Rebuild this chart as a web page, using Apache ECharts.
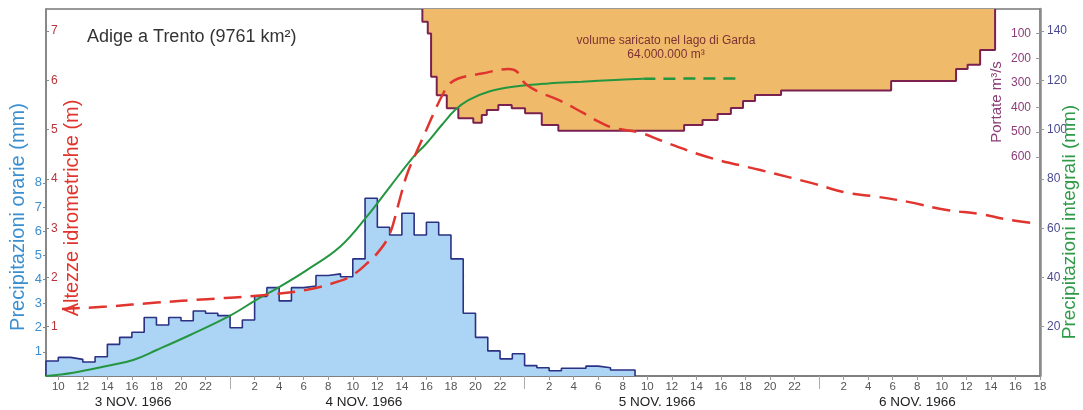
<!DOCTYPE html>
<html>
<head>
<meta charset="utf-8">
<script src="https://cdn.jsdelivr.net/npm/echarts@6/dist/echarts.min.js"></script>
<style>
html,body{margin:0;padding:0;background:#fff;}
#chart{width:1083px;height:410px;}
</style>
</head>
<body>
<div id="chart"></div>
<script>
// ---- Data (hours counted from 3 Nov 1966 00:00) ----
const precipStartHour = 9;
const precipMm = [0.62,0.77,0.69,0.58,0.80,1.31,1.60,1.81,2.42,2.11,2.42,2.29,2.69,2.60,2.50,
  2.00,2.32,3.29,3.66,3.11,3.66,3.73,4.16,4.23,4.11,4.85,7.36,6.16,5.84,6.74,5.84,6.37,5.84,4.85,
  2.60,1.60,1.04,0.71,0.92,0.43,0.34,0.22,0.32,0.32,0.41,0.34,0.25,0.25];

const volumeHours   = [39.67,39.67,40.11,40.38,40.84,41.66,42.6,43.82,44.51,44.92,45.86,46.95,48.04,49.4,50.75,61.0,62.5,63.73,64.81,65.8,66.78,68.9,77.87,83.16,84.1,85.12,86.34];
const volumePortate = [0,52,99,275,350,403,444,462,430,410,390,403,423,471,494,471,451,426,402,374,349,331,292,244,226,166,0];

const levelHours = [10.3,13.95,18.02,22.1,26.17,30.25,32.96,34.05,35.0,36.22,37.04,37.7,38.4,39.2,40.0,40.84,41.38,41.79,42.6,44.51,46.68,47.36,48.04,49.12,50.8,52.7,54.0,55.2,57.4,59.0,62.85,67.2,71.5,74.25,76.4,79.15,82.4,85.1,87.3,89.6];
const levelM     = [1.36,1.41,1.49,1.56,1.63,1.75,1.93,2.06,2.25,2.56,2.90,3.47,4.08,4.55,5.00,5.47,5.74,5.91,6.04,6.14,6.23,6.18,5.94,5.77,5.60,5.35,5.17,5.04,4.94,4.79,4.45,4.18,3.91,3.72,3.65,3.54,3.37,3.29,3.18,3.10];

const integralHours = [9,11.22,13.95,16.11,18.02,20.74,24,26.17,28.07,30.25,32.96,35.14,37.04,38.94,39.89,41.25,42.33,43.42,45.05,47.22,49.94,52.66,55.37,57.68];
const integralMm    = [0,1.34,4.06,6.5,10.56,16.65,24.5,31.0,36.3,43.0,52.5,64.7,76.9,89.0,93.8,101.9,108.0,112.0,115.4,117.5,118.8,119.5,120.2,120.7];
const integralDashHours = [57.68,65.7];
const integralDashMm    = [120.7,120.8];

// tick labels
const hourTickValues = [10,12,14,16,18,20,22, 26,28,30,32,34,36,38,40,42,44,46, 50,52,54,56,58,60,62,64,66,68,70, 74,76,78,80,82,84,86,88,90];
const dayBreaks = [24,48,72];
const dayLabels = ['3 NOV. 1966','4 NOV. 1966','5 NOV. 1966','6 NOV. 1966'];
const dayLabelPos = [16.1,34.9,58.8,80.0];
const precipTicks = [1,2,3,4,5,6,7,8];
const levelTicks = [1,2,3,4,5,6,7];
const portateTicks = [100,200,300,400,500,600];
const integralTicks = [20,40,60,80,100,120,140];

// ---- build series data ----
const precipData = [[precipStartHour,0]];
precipMm.forEach((v,i)=>precipData.push([precipStartHour+i, v]));
precipData.push([precipStartHour+precipMm.length, 0]);
const volumeData = volumeHours.map((h,i)=>[h, volumePortate[i]]);
const levelData = levelHours.map((h,i)=>[h, levelM[i]]);
const integralData = integralHours.map((h,i)=>[h, integralMm[i]]);
const integralDashData = integralDashHours.map((h,i)=>[h, integralDashMm[i]]);

const FONT = '"Liberation Sans", Arial, sans-serif';
const chart = echarts.init(document.getElementById('chart'), null, {renderer:'canvas'});

const vtext = (x,y,text,color,size)=>({type:'text', x, y, rotation:Math.PI/2, z:10,
  style:{text, fill:color, font:size+'px '+FONT, align:'center', verticalAlign:'middle', textAlign:'center', textVerticalAlign:'middle'}});

const option = {
  animation:false,
  backgroundColor:'#fff',
  title:{text:'Adige a Trento (9761 km²)', left:82, top:23,
    textStyle:{fontFamily:FONT, fontSize:18, fontWeight:'normal', color:'#333'}},
  grid:{left:46, right:43, top:9, bottom:34, show:true, borderColor:'#333', borderWidth:1},
  xAxis:[
    {type:'value', min:9, max:90, position:'bottom',
      axisLine:{show:true, lineStyle:{color:'#777', width:1.5}},
      axisTick:{show:true, customValues:hourTickValues, length:4, lineStyle:{color:'#999'}},
      axisLabel:{customValues:hourTickValues, formatter:v=>String(Math.round(v)%24),
        fontFamily:FONT, fontSize:11.5, color:'#555', margin:5},
      splitLine:{show:false}},
    {type:'value', min:9, max:90, position:'bottom',
      axisLine:{show:false},
      axisTick:{show:true, customValues:dayBreaks, length:13, lineStyle:{color:'#aaa', width:1}},
      axisLabel:{show:false}, splitLine:{show:false}},
    {type:'value', min:9, max:90, position:'bottom',
      axisLine:{show:false}, axisTick:{show:false},
      axisLabel:{customValues:dayLabelPos, margin:19,
        formatter:v=>{let k=0,b=1e9;dayLabelPos.forEach((p,i)=>{if(Math.abs(p-v)<b){b=Math.abs(p-v);k=i;}});return dayLabels[k];},
        fontFamily:FONT, fontSize:13.5, color:'#222'},
      splitLine:{show:false}}
  ],
  yAxis:[
    {type:'value', min:0, max:15.2, position:'left',
      axisLine:{show:true, lineStyle:{color:'#888', width:2}},
      axisTick:{show:true, customValues:precipTicks, length:3, lineStyle:{color:'#888'}},
      axisLabel:{customValues:precipTicks, fontFamily:FONT, fontSize:13, color:'#3b8fd0', margin:4},
      splitLine:{show:false}},
    {type:'value', min:0, max:7.45, position:'left',
      axisLine:{show:false},
      axisTick:{show:true, inside:true, customValues:levelTicks, length:3, lineStyle:{color:'#888'}},
      axisLabel:{inside:true, customValues:levelTicks, fontFamily:FONT, fontSize:12, color:'#b8333a', margin:5},
      splitLine:{show:false}},
    {type:'value', min:0, max:1490, inverse:true, position:'right',
      axisLine:{show:true, lineStyle:{color:'#8a8a8a', width:2.5}},
      axisTick:{show:true, inside:true, customValues:portateTicks, length:4, lineStyle:{color:'#999'}},
      axisLabel:{inside:true, customValues:portateTicks, fontFamily:FONT, fontSize:12, color:'#8b3d78', margin:9},
      splitLine:{show:false}},
    {type:'value', min:0, max:149, position:'right',
      axisLine:{show:false},
      axisTick:{show:true, customValues:integralTicks, length:4, lineStyle:{color:'#999'}},
      axisLabel:{customValues:integralTicks, fontFamily:FONT, fontSize:12, color:'#4a4a92', margin:7},
      splitLine:{show:false}}
  ],
  series:[
    {name:'Precipitazioni orarie', type:'line', step:'end', xAxisIndex:0, yAxisIndex:0,
      data:precipData, symbol:'none', z:1,
      lineStyle:{color:'#2b3183', width:1.6},
      areaStyle:{color:'#acd5f5', opacity:1}},
    {name:'Volume', type:'line', step:'end', xAxisIndex:0, yAxisIndex:2,
      data:volumeData, symbol:'none', z:2,
      lineStyle:{color:'#7a2150', width:2},
      areaStyle:{color:'#efbb6b', opacity:1}},
    {name:'Precipitazioni integrali', type:'line', smooth:0.4, xAxisIndex:0, yAxisIndex:3,
      data:integralData, symbol:'none', z:4,
      lineStyle:{color:'#24963f', width:2}},
    {name:'Precipitazioni integrali (prev.)', type:'line', xAxisIndex:0, yAxisIndex:3,
      data:integralDashData, symbol:'none', z:4,
      lineStyle:{color:'#24963f', width:2.5, type:[12,8]}},
    {name:'Altezze idrometriche', type:'line', smooth:0.4, xAxisIndex:0, yAxisIndex:1,
      data:levelData, symbol:'none', z:5,
      lineStyle:{color:'#e0352e', width:2.5, type:[18,9]}}
  ],
  graphic:[
    vtext(18, 217, 'Precipitazioni orarie (mm)', '#3a8fd0', 20),
    vtext(72, 208, 'Altezze idrometriche (m)', '#e0352e', 20),
    vtext(997, 102, 'Portate m³/s', '#8b3d78', 15),
    vtext(1070, 222, 'Precipitazioni integrali (mm)', '#2e9a47', 19),
    {type:'text', x:666, y:41, z:10,
      style:{text:'volume saricato nel lago di Garda', fill:'#7d3232', font:'12px "Liberation Sans Narrow", '+FONT, align:'center', verticalAlign:'middle', textAlign:'center', textVerticalAlign:'middle'}},
    {type:'text', x:666, y:55, z:10,
      style:{text:'64.000.000 m³', fill:'#7d3232', font:'12px "Liberation Sans Narrow", '+FONT, align:'center', verticalAlign:'middle', textAlign:'center', textVerticalAlign:'middle'}}
  ]
};
chart.setOption(option);
</script>
</body>
</html>
